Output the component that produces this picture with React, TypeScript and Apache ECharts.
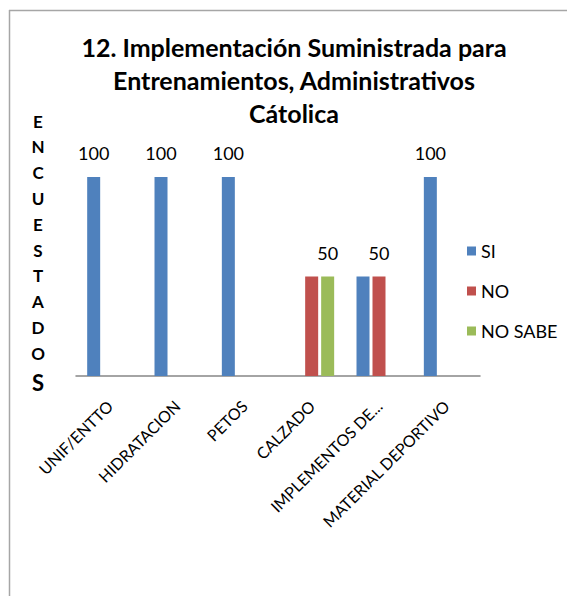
import React, { useEffect, useRef } from "react";
import * as echarts from "echarts";

const categories = ["UNIF/ENTTO", "HIDRATACION", "PETOS", "CALZADO", "IMPLEMENTOS DE...", "MATERIAL DEPORTIVO"];
const seriesNames = ["SI", "NO", "NO SABE"];
const siValues = [100, 100, 100, 0, 50, 100];
const noValues = [0, 0, 0, 50, 50, 0];
const noSabeValues = [0, 0, 0, 50, 0, 0];
const siLabelShown = [true, true, true, false, false, true];
const noLabelShown = [false, false, false, false, true, false];
const noSabeLabelShown = [false, false, false, true, false, false];
const titleLines = ["12. Implementación Suministrada para", "Entrenamientos, Administrativos", "Cátolica"];
const yTitleLetters = ["E", "N", "C", "U", "E", "S", "T", "A", "D", "O"];
const yTitleLast = "S";

const colors = ["#4F81BD", "#C0504D", "#9BBB59"];
const FONT = "Lato, 'Open Sans', sans-serif";

export default function App() {
  const ref = useRef<HTMLDivElement>(null);
  useEffect(() => {
    if (!ref.current) return;
    const chart = echarts.init(ref.current, undefined, { renderer: "svg" });
    const mk = (vals: number[], shown: boolean[]) =>
      vals.map((v, i) => ({ value: v, label: { show: shown[i] } }));
    const allValues = [siValues, noValues, noSabeValues];
    const allShown = [siLabelShown, noLabelShown, noSabeLabelShown];
    const graphics: any[] = [
      {
        type: "line",
        shape: { x1: 9, y1: 10.5, x2: 567, y2: 10.5 },
        style: { stroke: "#A6A6A6", lineWidth: 1.5 },
      },
      {
        type: "line",
        shape: { x1: 9.5, y1: 10, x2: 9.5, y2: 596 },
        style: { stroke: "#A6A6A6", lineWidth: 1.5 },
      },
      {
        type: "text",
        x: 294,
        y: 30,
        style: {
          text: titleLines.join("\n"),
          fontFamily: FONT,
          fontWeight: "bold",
          fontSize: 25,
          lineHeight: 33,
          textAlign: "center",
          textVerticalAlign: "top",
          fill: "#000",
        },
      },
    ];
    yTitleLetters.forEach((ch, i) => {
      graphics.push({
        type: "text",
        x: 38,
        y: 121 + i * 25.8,
        style: {
          text: ch,
          fontFamily: FONT,
          fontWeight: "bold",
          fontSize: 17,
          textAlign: "center",
          textVerticalAlign: "middle",
          fill: "#000",
        },
      });
    });
    graphics.push({
      type: "text",
      x: 38,
      y: 382,
      style: {
        text: yTitleLast,
        fontFamily: FONT,
        fontWeight: "bold",
        fontSize: 22,
        textAlign: "center",
        textVerticalAlign: "middle",
        fill: "#000",
      },
    });
    chart.setOption({
      animation: false,
      color: colors,
      grid: { left: 76, right: 87, top: 177, bottom: 220, containLabel: false },
      legend: {
        orient: "vertical",
        left: 467,
        top: 242,
        padding: 0,
        itemWidth: 9,
        itemHeight: 9,
        itemGap: 22,
        icon: "rect",
        textStyle: { fontFamily: FONT, fontSize: 18, color: "#000", padding: [0, 0, 0, 0] },
        data: seriesNames,
      },
      xAxis: {
        type: "category",
        data: categories,
        axisLine: { lineStyle: { color: "#868686", width: 1.5 } },
        axisTick: { show: false },
        axisLabel: {
          interval: 0,
          rotate: 45,
          margin: 27,
          fontFamily: FONT,
          fontSize: 16,
          color: "#000",
        },
      },
      yAxis: {
        type: "value",
        min: 0,
        max: 100,
        show: false,
        splitLine: { show: false },
      },
      series: seriesNames.map((name, s) => ({
        name,
        type: "bar",
        barWidth: 13,
        barGap: "23%",
        data: mk(allValues[s], allShown[s]),
        label: {
          position: "top",
          distance: 15,
          fontFamily: FONT,
          fontSize: 18,
          color: "#000",
        },
      })),
      graphic: graphics,
    });
    return () => chart.dispose();
  }, []);
  return (
    <div
      ref={ref}
      style={{ position: "absolute", left: 0, top: 0, width: 567, height: 596, background: "#fff" }}
    />
  );
}
